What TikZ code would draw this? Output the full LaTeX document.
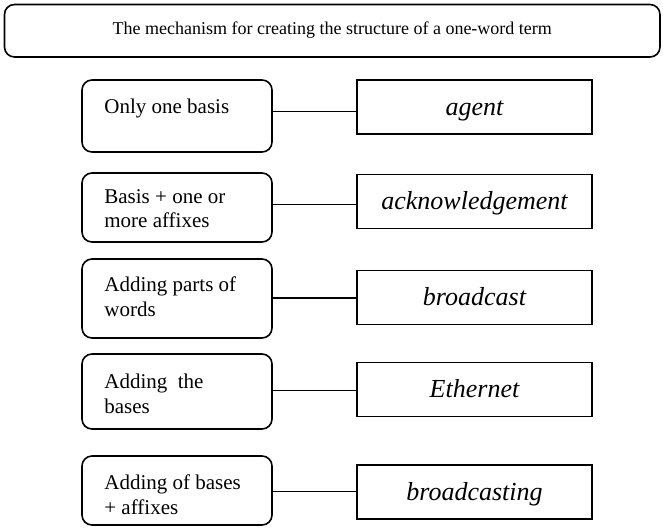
\documentclass[tikz,border=0pt]{standalone}
\usepackage{fontspec}
\setmainfont{Liberation Serif}
\usetikzlibrary{calc}
\begin{document}
\begin{tikzpicture}[x=1pt,y=-1pt,
  titlebox/.style={draw, line width=1.6pt, rounded corners=10pt, minimum width=655.5pt, minimum height=52.5pt, inner sep=0pt, font=\fontsize{18}{21}\selectfont, text height=12.6pt, text depth=5pt},
  leftbox/.style={draw, line width=1.6pt, rounded corners=10pt, minimum width=190pt, inner sep=0pt},
  lefttext/.style={anchor=north west, inner sep=0pt, align=left, font=\fontsize{21}{24.5}\selectfont},
  rightbox/.style={draw, line width=1.6pt, minimum width=235pt, minimum height=54pt, inner sep=0pt, font=\fontsize{26}{30}\selectfont\itshape, text height=21.5pt, text depth=5.2pt},
  link/.style={line width=1.4pt}]
\useasboundingbox (0,0) rectangle (663,528);

\node[titlebox] (title) at (332.25,30.75) {The mechanism for creating the structure of a one-word term};

\node[leftbox, minimum height=72pt] (l1) at (177,116) {};
\node[leftbox, minimum height=69pt] (l2) at (177,207.5) {};
\node[leftbox, minimum height=79pt] (l3) at (177,298.5) {};
\node[leftbox, minimum height=75pt] (l4) at (177,391.5) {};
\node[leftbox, minimum height=69pt] (l5) at (177,490.5) {};

\node[lefttext] (t1) at ($(l1.north west)+(23,19)$) {\rule{0pt}{15pt}Only one basis};
\node[lefttext] (t2) at ($(l2.north west)+(23,16)$) {\rule{0pt}{15pt}Basis + one or\\more affixes};
\node[lefttext] (t3) at ($(l3.north west)+(23,18.5)$) {\rule{0pt}{15pt}Adding parts of\\words};
\node[lefttext] (t4) at ($(l4.north west)+(23,20.5)$) {\rule{0pt}{15pt}Adding~ the\\bases};
\node[lefttext] (t5) at ($(l5.north west)+(23,19.5)$) {\rule{0pt}{15pt}Adding of bases\\+ affixes};

\node[rightbox] (r1) at (474.5,107) {agent};
\node[rightbox] (r2) at (474.5,201.5) {acknowledgement};
\node[rightbox] (r3) at (474.5,297.5) {broadcast};
\node[rightbox] (r4) at (474.5,389.5) {Ethernet};
\node[rightbox] (r5) at (474.5,492) {broadcasting};

\foreach \i in {1,...,5}
  \draw[link] ($(l\i.east)!0.5!(l\i.east |- r\i.west)$) -- ($(r\i.west)!0.5!(r\i.west |- l\i.east)$);
\end{tikzpicture}
\end{document}
